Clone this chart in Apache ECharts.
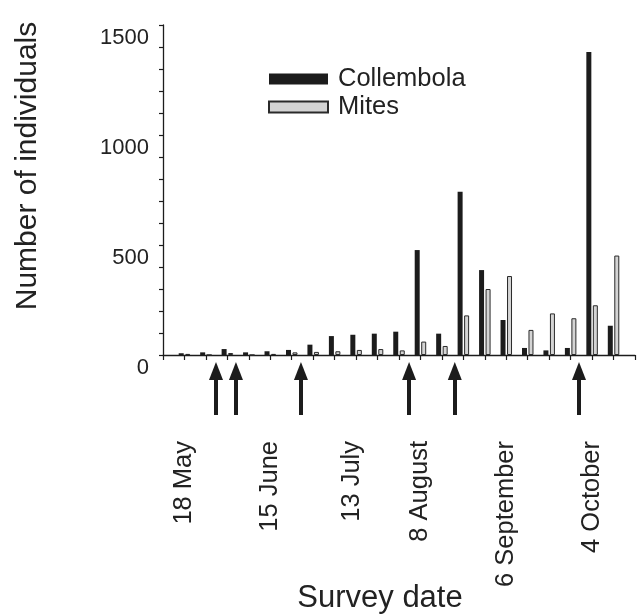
<!DOCTYPE html>
<html>
<head>
<meta charset="utf-8">
<script src="https://cdn.jsdelivr.net/npm/echarts@6/dist/echarts.min.js"></script>
<style>
  html, body { margin: 0; padding: 0; background: #fff; }
  #chart { width: 640px; height: 616px; }
</style>
</head>
<body>
<div id="chart"></div>
<script>
// survey number along the x axis (one per sampling date)
const surveys = [1, 2, 3, 4, 5, 6, 7, 8, 9, 10, 11, 12, 13, 14, 15, 16, 17, 18, 19, 20, 21];
const collembola = [8, 12, 27, 12, 17, 23, 47, 86, 92, 97, 106, 477, 97, 742, 386, 159, 32, 21, 32, 1377, 133];
const mites = [5, 0, 9, 0, 5, 12, 14, 17, 23, 27, 21, 61, 41, 180, 300, 359, 114, 189, 167, 226, 452];
// date labels and the survey they sit under
const dateLabels = ['18 May', '15 June', '13 July', '8 August', '6 September', '4 October'];
const datePositions = [1, 5, 8.8, 12, 16, 20];
// arrows below the axis (positions in survey units)
const arrowPositions = [2.47, 3.4, 6.43, 11.47, 13.6, 19.39];
const yTickLabels = [0, 500, 1000, 1500];

const ink = '#1c1c1c';
const font = 'Liberation Sans, Arial, sans-serif';

const chart = echarts.init(document.getElementById('chart'));

const option = {
  animation: false,
  textStyle: { fontFamily: font, color: '#222' },
  legend: {
    orient: 'vertical',
    left: 263,
    top: 61,
    itemWidth: 59,
    itemHeight: 11,
    itemGap: 2,
    icon: 'rect',
    textStyle: { fontSize: 25.5, lineHeight: 26, color: '#222', padding: [0, 0, 0, 5] },
    data: ['Collembola', 'Mites']
  },
  grid: [
    { left: 163, right: 5, top: 25, bottom: 261, containLabel: false, outerBoundsMode: 'none' },
    { left: 163, right: 5, top: 371, bottom: 201, containLabel: false, outerBoundsMode: 'none' }
  ],
  xAxis: [
    {
      type: 'value',
      gridIndex: 0,
      min: 0,
      max: 22,
      interval: 1,
      splitLine: { show: false },
      axisLine: { lineStyle: { color: ink, width: 1.3 } },
      axisTick: {
        show: true, length: 5, inside: false,
        lineStyle: { color: ink, width: 1.2 }
      },
      axisLabel: {
        customValues: datePositions,
        rotate: 90,
        margin: 86,
        fontSize: 25.5,
        color: '#222',
        padding: [0, 0, 0, 0],
        formatter: function (v) {
          const i = datePositions.indexOf(v);
          return i >= 0 ? dateLabels[i] : '';
        }
      },
      name: 'Survey date',
      nameLocation: 'middle',
      nameGap: 228,
      nameMoveOverlap: false,
      nameTextStyle: { fontSize: 31, color: '#222', padding: [0, 38, 0, 0] }
    },
    {
      type: 'value',
      gridIndex: 1,
      min: 0,
      max: 22,
      show: false
    }
  ],
  yAxis: [
    {
      type: 'value',
      gridIndex: 0,
      min: 0,
      max: 1500,
      interval: 100,
      splitLine: { show: false },
      axisLine: { show: true, lineStyle: { color: ink, width: 1.3 } },
      axisTick: { show: true, length: 4, inside: false, lineStyle: { color: ink, width: 1.2 } },
      axisLabel: {
        fontSize: 22,
        color: '#222',
        margin: 14,
        verticalAlign: 'top',
        padding: [2, 0, 0, 0],
        formatter: function (v) {
          return yTickLabels.indexOf(v) >= 0 ? String(v) : '';
        }
      },
      name: 'Number of individuals',
      nameLocation: 'middle',
      nameGap: 120,
      nameMoveOverlap: false,
      nameTextStyle: { fontSize: 30, color: '#222', padding: [0, 0, 0, 48] }
    },
    {
      type: 'value',
      gridIndex: 1,
      min: 0,
      max: 1,
      show: false
    }
  ],
  series: [
    {
      name: 'Collembola',
      type: 'bar',
      xAxisIndex: 0,
      yAxisIndex: 0,
      barWidth: 5,
      barGap: '30%',
      itemStyle: { color: ink },
      data: surveys.map((s, i) => [s, collembola[i]])
    },
    {
      name: 'Mites',
      type: 'bar',
      xAxisIndex: 0,
      yAxisIndex: 0,
      barWidth: 5,
      barGap: '30%',
      itemStyle: { color: '#d4d4d4', borderColor: '#2a2a2a', borderWidth: 1 },
      data: surveys.map((s, i) => [s, mites[i]])
    },
    {
      name: 'arrows',
      type: 'line',
      xAxisIndex: 1,
      yAxisIndex: 1,
      data: [],
      silent: true,
      markLine: {
        silent: true,
        symbol: ['none', 'triangle'],
        symbolSize: [14, 18],
        label: { show: false },
        lineStyle: { color: ink, width: 4, type: 'solid' },
        data: arrowPositions.map(x => [{ coord: [x, 0] }, { coord: [x, 1] }])
      }
    }
  ]
};

chart.setOption(option);
</script>
</body>
</html>
